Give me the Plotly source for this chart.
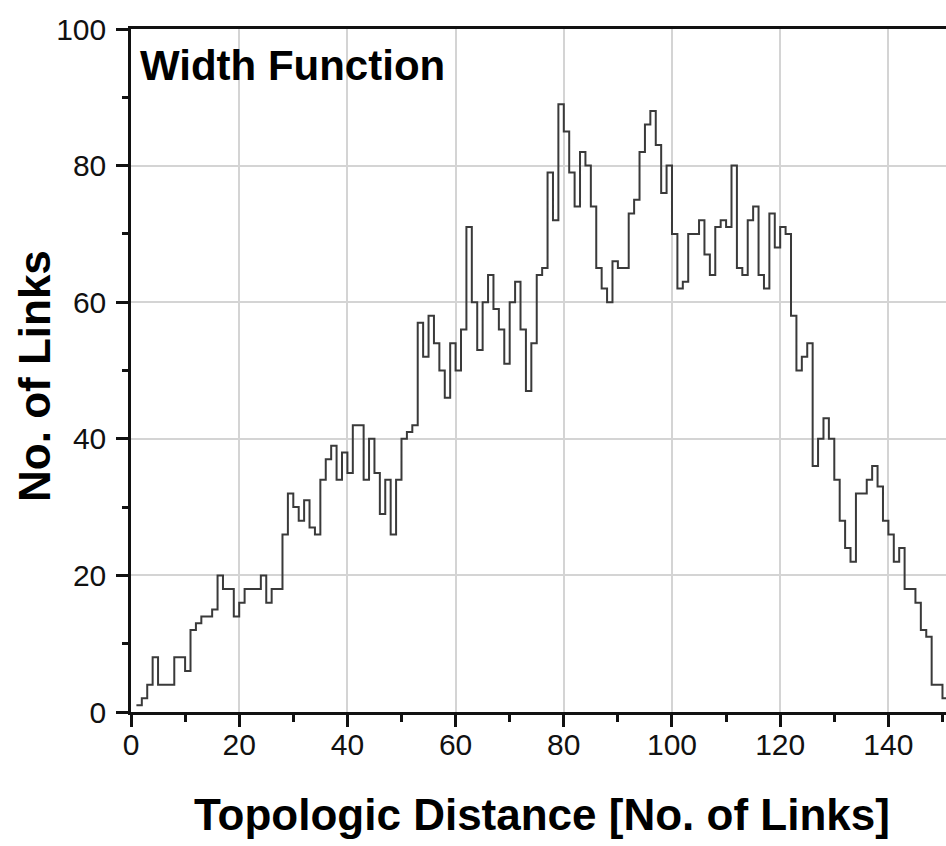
import plotly.graph_objects as go

# Topologic distance (left edge of each unit bin) and number of links per bin
distance = list(range(1, 151))
links = [
    1, 2, 4, 8, 4, 4, 4, 8, 8, 6,
    12, 13, 14, 14, 15, 20, 18, 18, 14, 16,
    18, 18, 18, 20, 16, 18, 18, 26, 32, 30,
    28, 31, 27, 26, 34, 37, 39, 34, 38, 35,
    42, 42, 34, 40, 35, 29, 34, 26, 34, 40,
    41, 42, 57, 52, 58, 54, 50, 46, 54, 50,
    56, 71, 60, 53, 60, 64, 59, 56, 51, 60,
    63, 56, 47, 54, 64, 65, 79, 72, 89, 85,
    79, 74, 82, 80, 74, 65, 62, 60, 66, 65,
    65, 73, 75, 82, 86, 88, 83, 76, 80, 70,
    62, 63, 70, 70, 72, 67, 64, 71, 72, 71,
    80, 65, 64, 72, 74, 64, 62, 73, 68, 71,
    70, 58, 50, 52, 54, 36, 40, 43, 40, 34,
    28, 24, 22, 32, 32, 34, 36, 33, 28, 26,
    22, 24, 18, 18, 16, 12, 11, 4, 4, 2,
]

x_ticks = [0, 20, 40, 60, 80, 100, 120, 140]
y_ticks = [0, 20, 40, 60, 80, 100]

# close the final bin so the last step has its full width
x_steps = distance + [distance[-1] + 1]
y_steps = links + [links[-1]]

fig = go.Figure()
fig.add_trace(go.Scatter(
    x=x_steps, y=y_steps,
    mode="lines",
    line=dict(shape="hv", color="#3a3a3a", width=2),
    showlegend=False,
    hoverinfo="skip",
))

family = "Liberation Sans, Arial, sans-serif"
axis_font = dict(family=family, size=30, color="#111111")
title_font = dict(family=family, size=44, color="#000000")

fig.update_layout(
    width=946, height=846,
    margin=dict(l=131, r=0, t=29, b=134),
    paper_bgcolor="white",
    plot_bgcolor="white",
    font=axis_font,
    xaxis=dict(
        range=[0, 150.65],
        tickvals=x_ticks,
        ticks="outside", ticklen=12, tickwidth=2.5, tickcolor="#111111",
        ticklabelstandoff=-8,
        showline=True, linecolor="#111111", linewidth=2.5, mirror=True,
        showgrid=True, gridcolor="#d4d4d4", gridwidth=1.5,
        zeroline=False,
        tickfont=axis_font,
        minor=dict(dtick=10, tick0=0, ticks="outside", ticklen=7,
                   tickwidth=2.5, tickcolor="#111111", showgrid=False),
    ),
    yaxis=dict(
        range=[0, 100],
        tickvals=y_ticks,
        ticks="outside", ticklen=12, tickwidth=2.5, tickcolor="#111111",
        ticklabelstandoff=4,
        showline=True, linecolor="#111111", linewidth=2.5,
        showgrid=True, gridcolor="#d4d4d4", gridwidth=1.5,
        zeroline=False,
        tickfont=axis_font,
        minor=dict(dtick=10, tick0=0, ticks="outside", ticklen=6,
                   tickwidth=2.5, tickcolor="#111111", showgrid=False),
    ),
    annotations=[
        dict(text="<b>Width Function</b>",
             xref="paper", yref="paper",
             x=0.008, y=0.946, xanchor="left", yanchor="middle",
             showarrow=False,
             font=dict(family=family, size=42, color="#000000")),
        # axis titles
        dict(text="<b>Topologic Distance [No. of Links]</b>",
             xref="paper", yref="paper",
             x=0.504, y=-0.150, xanchor="center", yanchor="middle",
             showarrow=False, font=title_font),
        dict(text="<b>No. of Links</b>",
             xref="paper", yref="paper", textangle=-90,
             x=-0.1178, y=0.492, xanchor="center", yanchor="middle",
             showarrow=False, font=title_font),
    ],
)

fig.write_html("out.html")
